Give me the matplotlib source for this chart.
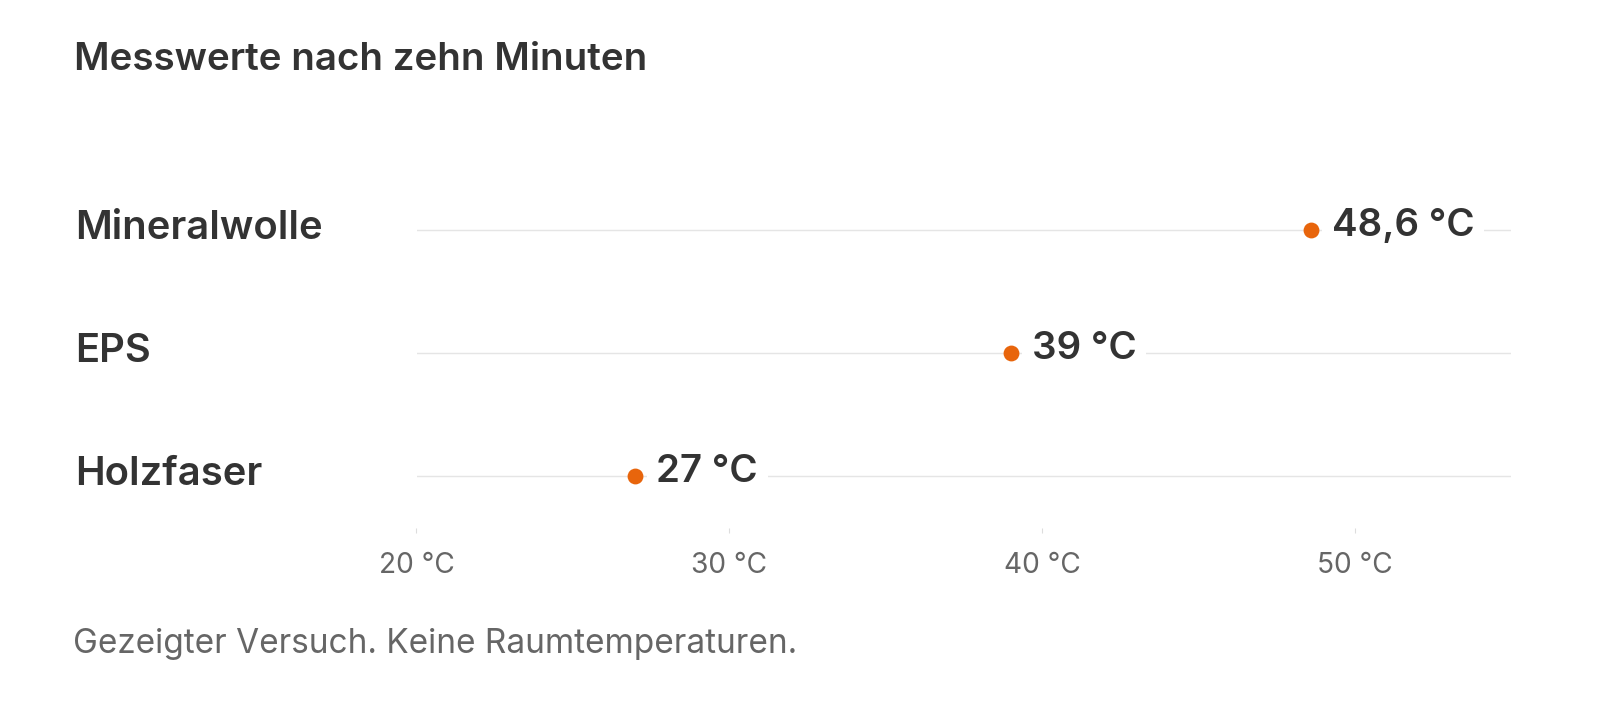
import matplotlib
matplotlib.use("Agg")
import matplotlib.pyplot as plt
from matplotlib.transforms import blended_transform_factory

# ---- data ----
categories = ["Holzfaser", "EPS", "Mineralwolle"]
values = [27, 39, 48.6]
value_labels = ["27 °C", "39 °C", "48,6 °C"]
xticks = [20, 30, 40, 50]
xtick_labels = ["20 °C", "30 °C", "40 °C", "50 °C"]
title = "Messwerte nach zehn Minuten"
footnote = "Gezeigter Versuch. Keine Raumtemperaturen."

FONT = ["Inter", "DejaVu Sans"]
plt.rcParams["font.family"] = FONT
DARK = "#333333"
GREY = "#666666"
ORANGE = "#E8650C"

W, H = 1600, 710
fig = plt.figure(figsize=(W / 100, H / 100), dpi=100)
fig.patch.set_facecolor("white")

ax = fig.add_axes([416.5 / W, 1 - 528 / H, (1511 - 416.5) / W, (528 - 169) / H])
ax.set_xlim(20, 55)
ax.set_ylim(-0.42, 2.5)
for s in ax.spines.values():
    s.set_visible(False)
ax.set_yticks([])

ypos = list(range(len(categories)))
for y in ypos:
    ax.axhline(y, color="#e5e5e5", lw=1.0, zorder=1)
ax.scatter(values, ypos, s=130, color=ORANGE, zorder=3, linewidths=0)

renderer = fig.canvas.get_renderer()


def fit(t, target):
    w = t.get_window_extent(renderer).width
    t.set_fontsize(t.get_fontsize() * target / w)
    return t.get_fontsize()


# value labels
vtexts = []
for v, y, lab in zip(values, ypos, value_labels):
    t = ax.annotate(lab, xy=(v, y), xytext=(21, -6), textcoords="offset pixels",
                    ha="left", va="baseline", fontsize=28, fontweight="semibold",
                    color=DARK, zorder=4,
                    bbox=dict(boxstyle="square,pad=0.25", fc="white", ec="none"))
    vtexts.append(t)
vs = fit(vtexts[2], 143)
for t in vtexts:
    t.set_fontsize(vs)

# category labels
bt = blended_transform_factory(fig.transFigure, ax.transData)
ctexts = []
for y, c in zip(ypos, categories):
    t = ax.annotate(c, xy=(75 / W, y), xycoords=bt, xytext=(0, -8.7),
                    textcoords="offset pixels", ha="left", va="baseline",
                    fontsize=27, fontweight="semibold", color=DARK,
                    annotation_clip=False)
    ctexts.append(t)
cs = fit(ctexts[2], 247)
for t in ctexts:
    t.set_fontsize(cs)

# x ticks
ax.set_xticks(xticks, xtick_labels)
ax.tick_params(axis="x", length=3.6, width=0.8, color="#dddddd",
               labelcolor=GREY, labelsize=21, pad=28.6)
for lab in ax.get_xticklabels():
    lab.set_fontweight("normal")
    lab.set_va("baseline")
fig.canvas.draw()
tl = ax.get_xticklabels()[3]
ts = tl.get_fontsize() * 76 / tl.get_window_extent(renderer).width
for lab in ax.get_xticklabels():
    lab.set_fontsize(ts)

# title
tt = fig.text(74 / W, 1 - 70 / H, title, ha="left", va="baseline",
              fontsize=26, fontweight="semibold", color=DARK)
fit(tt, 573)

# footnote
ft = fig.text(73 / W, 1 - 653 / H, footnote, ha="left", va="baseline",
              fontsize=21, fontweight="normal", color=GREY)
fit(ft, 723)

fig.savefig("out.png", dpi=100, facecolor="white")
